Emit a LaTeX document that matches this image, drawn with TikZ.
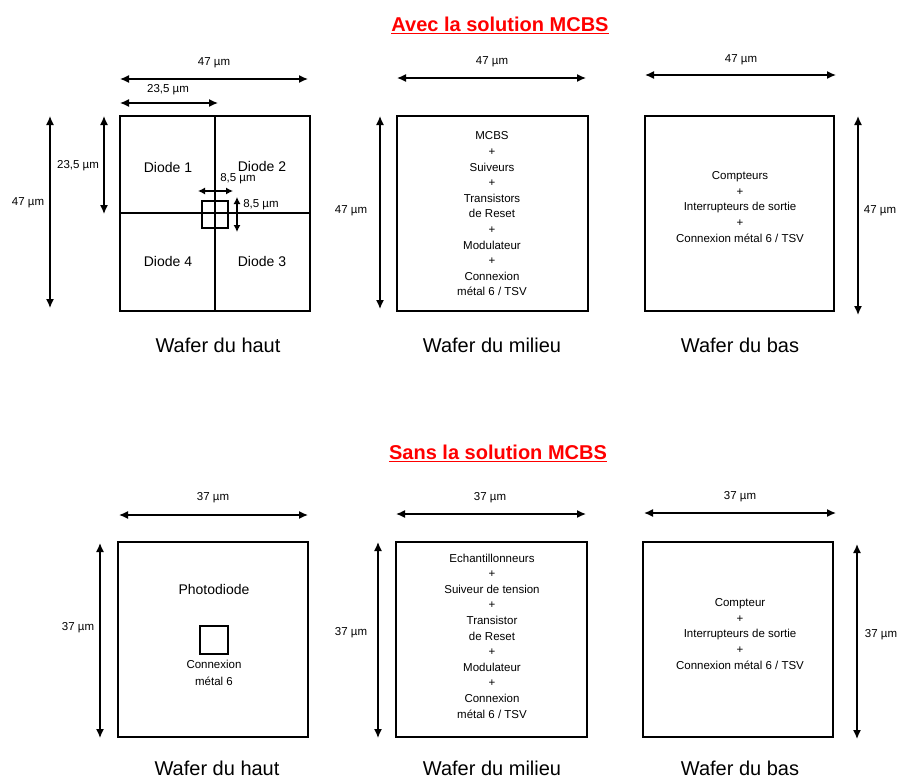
\documentclass[tikz,border=0pt]{standalone}
\usepackage{fontspec}
\setmainfont{Liberation Sans}
\usetikzlibrary{arrows.meta}
\begin{document}
\begin{tikzpicture}[x=1pt,y=-1pt,
  box/.style={draw,line width=2pt},
  dim/.style={line width=1.4pt,{Latex[length=9pt,width=8pt]}-{Latex[length=9pt,width=8pt]}},
  sdim/.style={line width=1.2pt,{Latex[length=7pt,width=7pt]}-{Latex[length=7pt,width=7pt]}},
  lbl/.style={font=\fontsize{11.5}{13}\selectfont,inner sep=0pt},
  big/.style={font=\fontsize{14}{16}\selectfont,inner sep=0pt},
  wcap/.style={font=\fontsize{20}{22}\selectfont,inner sep=0pt},
  ttl/.style={font=\fontsize{20}{22}\selectfont\bfseries,text=red,inner sep=0pt},
  blk/.style={font=\fontsize{11.5}{15.6}\selectfont,align=center,inner sep=0pt},
  uline/.style={red,line width=1.8pt}]
\useasboundingbox (0,0) rectangle (901,779);

% ---------- Titles ----------
\node[ttl,anchor=base] (t1) at (500,31) {Avec la solution MCBS};
\draw[uline] (t1.base west) ++(0,2.5) coordinate (u1a) -- (t1.base east |- u1a);
\node[ttl,anchor=base] (t2) at (498,459) {Sans la solution MCBS};
\draw[uline] (t2.base west) ++(0,2.5) coordinate (u2a) -- (t2.base east |- u2a);

% ---------- Top row: left wafer ----------
\draw[box] (120,116) rectangle (310,311);
\draw[box] (215,116) -- (215,311);
\draw[box] (120,213) -- (310,213);
\draw[box] (202,201) rectangle (228,228);
\node[big] (d1) at (168,167) {Diode 1};
\node[big] (d2) at (262,166) {Diode 2};
\node[big] (d4) at (168,261) {Diode 4};
\node[big] (d3) at (262,261) {Diode 3};
\draw[dim] (120,79) -- (308,79);
\node[lbl] (l1) at (214,63) {47 µm};
\draw[dim] (120,103) -- (218,103);
\node[lbl] (l2) at (168,90) {23,5 µm};
\draw[dim] (50,116) -- (50,308);
\node[lbl] (l3) at (28,203) {47 µm};
\draw[dim] (104,116) -- (104,214);
\node[lbl] (l4) at (78,166) {23,5 µm};
\draw[sdim] (198,191) -- (233,191);
\node[lbl] (l5) at (238,179) {8,5 µm};
\draw[sdim] (237,197) -- (237,232);
\node[lbl] (l6) at (261,205) {8,5 µm};
\node[wcap] (c1) at (218,345) {Wafer du haut};

% ---------- Top row: middle wafer ----------
\draw[box] (397,116) rectangle (588,311);
\draw[dim] (397,78) -- (586,78);
\node[lbl] (l7) at (492,62) {47 µm};
\draw[dim] (380,116) -- (380,309);
\node[lbl] (l8) at (351,211) {47 µm};
\node[blk] (m1) at (492,214) {MCBS\\+\\Suiveurs\\+\\Transistors\\de Reset\\+\\Modulateur\\+\\Connexion\\métal 6 / TSV};
\node[wcap] (c2) at (492,345) {Wafer du milieu};

% ---------- Top row: right wafer ----------
\draw[box] (645,116) rectangle (834,311);
\draw[dim] (645,75) -- (836,75);
\node[lbl] (l9) at (741,60) {47 µm};
\draw[dim] (858,116) -- (858,315);
\node[lbl] (l10) at (880,211) {47 µm};
\node[blk] (r1) at (740,207) {Compteurs\\+\\Interrupteurs de sortie\\+\\Connexion métal 6 / TSV};
\node[wcap] (c3) at (740,345) {Wafer du bas};

% ---------- Bottom row: left wafer ----------
\draw[box] (118,542) rectangle (308,737);
\draw[box] (200,626) rectangle (228,654);
\draw[dim] (119,515) -- (308,515);
\node[lbl] (l11) at (213,498) {37 µm};
\draw[dim] (100,543) -- (100,738);
\node[lbl] (l12) at (78,628) {37 µm};
\node[big] (p1) at (214,589) {Photodiode};
\node[blk,font=\fontsize{11.5}{16.5}\selectfont] (p2) at (214,673) {Connexion\\métal 6};
\node[wcap] (c4) at (217,768) {Wafer du haut};

% ---------- Bottom row: middle wafer ----------
\draw[box] (396,542) rectangle (587,737);
\draw[dim] (396,514) -- (586,514);
\node[lbl] (l13) at (490,498) {37 µm};
\draw[dim] (378,542) -- (378,738);
\node[lbl] (l14) at (351,633) {37 µm};
\node[blk] (m2) at (492,636) {Echantillonneurs\\+\\Suiveur de tension\\+\\Transistor\\de Reset\\+\\Modulateur\\+\\Connexion\\métal 6 / TSV};
\node[wcap] (c5) at (492,768) {Wafer du milieu};

% ---------- Bottom row: right wafer ----------
\draw[box] (643,542) rectangle (833,737);
\draw[dim] (644,513) -- (836,513);
\node[lbl] (l15) at (740,497) {37 µm};
\draw[dim] (857,544) -- (857,739);
\node[lbl] (l16) at (881,635) {37 µm};
\node[blk] (r2) at (740,634) {Compteur\\+\\Interrupteurs de sortie\\+\\Connexion métal 6 / TSV};
\node[wcap] (c6) at (740,768) {Wafer du bas};
\end{tikzpicture}
\end{document}
